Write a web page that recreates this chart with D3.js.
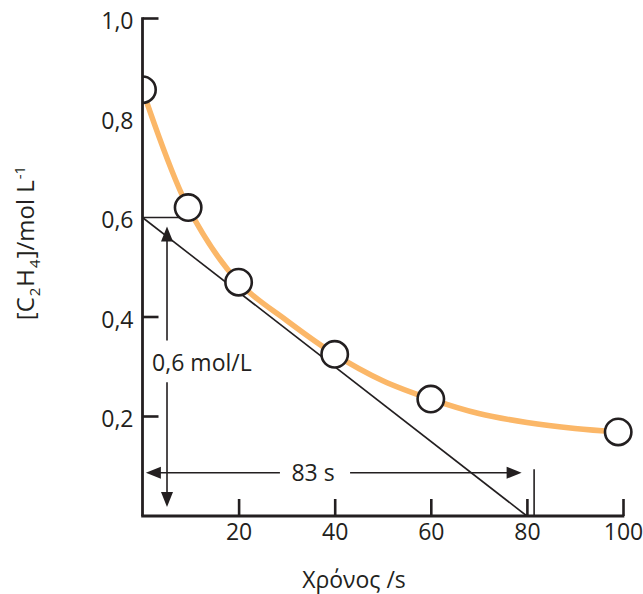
<!DOCTYPE html>
<html><head><meta charset="utf-8">
<script src="https://cdn.jsdelivr.net/npm/d3@7"></script>
<style>
html,body{margin:0;padding:0;background:#fff;}
text{font-family:"Open Sans",sans-serif;fill:#231f20;}
</style></head>
<body>
<svg id="chart" width="643" height="594"></svg>
<script>
// ---- data ----
const times = [0, 9.5, 20, 40, 60, 99];
const concentrations = [0.857, 0.62, 0.47, 0.325, 0.235, 0.169];
const curveTimes = [0, 9.5, 20, 30, 40, 50, 60, 70, 80, 90, 99];
const curveValues = [0.857, 0.62, 0.47, 0.393, 0.325, 0.272, 0.235, 0.206, 0.188, 0.176, 0.169];
const xTickValues = [20, 40, 60, 80, 100];
const yTickLabels = [0.2, 0.4, 0.6, 0.8, 1.0];
const yTickMarks = [0.2, 0.4, 1.0];
const tangent = [[0, 0.6], [80, 0]];
const guide06 = [[0, 0.6], [7.8, 0.6]];
const vArrowX = 5.1, vArrowTop = 0.582, vArrowBottom = 0.018, vGapTop = 0.353, vGapBottom = 0.269;
const hArrowY = 0.087, hArrowLeft = 0.7, hArrowRight = 78.9, hGapLeft = 28.6, hGapRight = 43.2;
const endMarker = [[81.5, 0.094], [81.5, 0]];
const deltaCLabel = {t: 2, v: 0.292, text: "0,6 mol/L"};
const deltaTLabel = {t: 35.5, v: 0.071, text: "83 s"};
const xTitle = "Χρόνος /s";

// ---- scales ----
const svg = d3.select("#chart");
const x = d3.scaleLinear().domain([0, 100]).range([142.5, 623]);
const y = d3.scaleLinear().domain([0, 1]).range([516, 18.5]);
const fmt = d => d3.format(".1f")(d).replace(".", ",");
const ink = "#231f20";

// clip for the plot area (left of axis hidden)
svg.append("defs").append("clipPath").attr("id", "plotclip")
  .append("rect").attr("x", x(0)).attr("y", 0).attr("width", 643 - x(0)).attr("height", y(0));

// fitted curve
const line = d3.line().x(d => x(d[0])).y(d => y(d[1])).curve(d3.curveCatmullRom.alpha(0.5));
svg.append("path").datum(curveTimes.map((t, i) => [t, curveValues[i]]))
  .attr("d", line).attr("fill", "none").attr("stroke", "#fbb768").attr("stroke-width", 5.5)
  .attr("clip-path", "url(#plotclip)");

// tangent line and guide
const straight = d3.line().x(d => x(d[0])).y(d => y(d[1]));
svg.append("path").attr("d", straight(tangent)).attr("stroke", ink).attr("stroke-width", 1.6).attr("fill", "none");
svg.append("path").attr("d", straight(guide06)).attr("stroke", ink).attr("stroke-width", 1.6).attr("fill", "none");

// data points
svg.append("g").attr("clip-path", "url(#plotclip)").selectAll("circle")
  .data(times.map((t, i) => [t, concentrations[i]])).join("circle")
  .attr("cx", d => x(d[0])).attr("cy", d => y(d[1])).attr("r", 13.2)
  .attr("fill", "#fff").attr("stroke", ink).attr("stroke-width", 2.6);

// arrows
function seg(a, b) {
  svg.append("line").attr("x1", a[0]).attr("y1", a[1]).attr("x2", b[0]).attr("y2", b[1])
    .attr("stroke", ink).attr("stroke-width", 1.6);
}
function head(tip, dir) { // dir: unit vector pointing toward the tip
  const L = 15, W = 6;
  const bx = tip[0] - dir[0] * L, by = tip[1] - dir[1] * L;
  const px = -dir[1], py = dir[0];
  svg.append("path").attr("d", `M${tip[0]},${tip[1]}L${bx + px * W},${by + py * W}L${bx - px * W},${by - py * W}Z`)
    .attr("fill", ink);
}
// vertical Δc arrow
seg([x(vArrowX), y(vArrowTop) + 10], [x(vArrowX), y(vGapTop)]);
seg([x(vArrowX), y(vGapBottom)], [x(vArrowX), y(vArrowBottom) - 10]);
head([x(vArrowX), y(vArrowTop)], [0, -1]);
head([x(vArrowX), y(vArrowBottom)], [0, 1]);
// horizontal Δt arrow
seg([x(hArrowLeft) + 10, y(hArrowY)], [x(hGapLeft), y(hArrowY)]);
seg([x(hGapRight), y(hArrowY)], [x(hArrowRight) - 10, y(hArrowY)]);
head([x(hArrowLeft), y(hArrowY)], [-1, 0]);
head([x(hArrowRight), y(hArrowY)], [1, 0]);
// end marker
svg.append("path").attr("d", straight(endMarker)).attr("stroke", ink).attr("stroke-width", 1.6);

// annotation labels
svg.append("text").attr("x", x(deltaCLabel.t)).attr("y", y(deltaCLabel.v))
  .attr("font-size", 23).text(deltaCLabel.text);
svg.append("text").attr("x", x(deltaTLabel.t)).attr("y", y(deltaTLabel.v))
  .attr("font-size", 23).attr("text-anchor", "middle").text(deltaTLabel.text);

// ---- axes ----
// x axis
const xAxis = svg.append("g").attr("transform", `translate(0,${y(0)})`)
  .call(d3.axisBottom(x).tickValues(xTickValues).tickSizeInner(-17).tickSizeOuter(0).tickPadding(8).tickFormat(d3.format("d")));
xAxis.select(".domain").remove();
xAxis.selectAll(".tick line").attr("stroke", ink).attr("stroke-width", 2.6);
xAxis.selectAll("text").attr("font-size", 23).attr("font-family", "Open Sans").attr("fill", ink);
svg.append("line").attr("x1", x(0) - 1.3).attr("x2", x(100) + 1.3).attr("y1", y(0)).attr("y2", y(0))
  .attr("stroke", ink).attr("stroke-width", 2.8);

// y axis
const yAxis = svg.append("g").attr("transform", `translate(${x(0)},0)`)
  .call(d3.axisLeft(y).tickValues(yTickLabels).tickSize(0).tickPadding(9).tickFormat(fmt));
yAxis.select(".domain").remove();
yAxis.selectAll("text").attr("font-size", 23).attr("font-family", "Open Sans").attr("fill", ink).attr("dy", "0.45em");
svg.append("g").selectAll("line").data(yTickMarks).join("line")
  .attr("x1", x(0)).attr("x2", x(0) + 16).attr("y1", d => y(d)).attr("y2", d => y(d))
  .attr("stroke", ink).attr("stroke-width", 2.6);
svg.append("line").attr("x1", x(0)).attr("x2", x(0)).attr("y1", y(1) - 1.3).attr("y2", y(0))
  .attr("stroke", ink).attr("stroke-width", 2.8);

// axis titles
svg.append("text").attr("x", 354).attr("y", 588).attr("text-anchor", "middle")
  .attr("font-size", 23).text(xTitle);
const yt = svg.append("text").attr("transform", "translate(34,243) rotate(-90)")
  .attr("text-anchor", "middle").attr("font-size", 24);
yt.append("tspan").text("[C");
yt.append("tspan").attr("font-size", 15).attr("dy", 6).attr("dx", 1).text("2");
yt.append("tspan").attr("dy", -6).attr("dx", 1).text("H");
yt.append("tspan").attr("font-size", 15).attr("dy", 6).attr("dx", 1).text("4");
yt.append("tspan").attr("dy", -6).attr("dx", 1).text("]/mol L");
yt.append("tspan").attr("font-size", 15).attr("dy", -9).attr("dx", 1).text("-1");
</script>
</body></html>
